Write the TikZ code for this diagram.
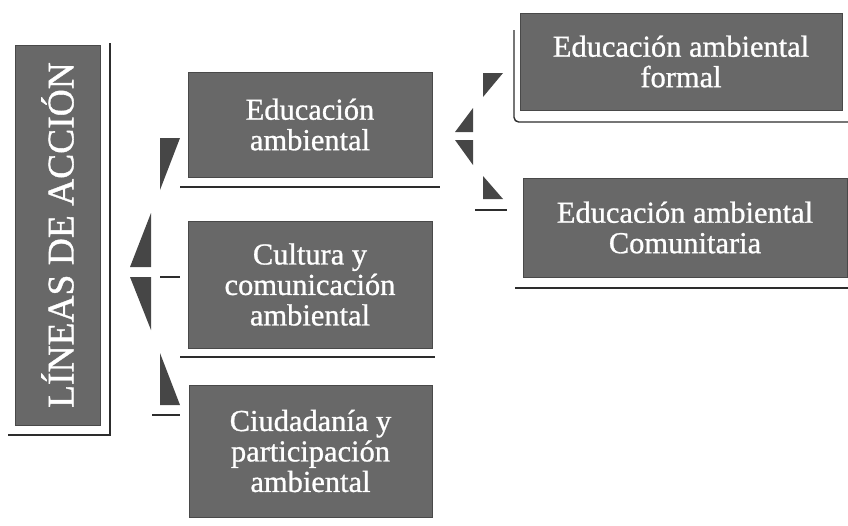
\documentclass[tikz,border=0pt]{standalone}
\usepackage{fontspec}
\setmainfont{Liberation Serif}
\newfontfamily\boxfont[FakeBold=0.9]{Liberation Serif}
\usetikzlibrary{positioning}
\definecolor{boxgray}{RGB}{104,104,104}
\definecolor{wedgegray}{RGB}{70,70,70}
\definecolor{rulegray}{RGB}{45,45,45}

\begin{document}
\begin{tikzpicture}[x=0.03cm,y=-0.03cm]
            \tikzstyle{every node}=[font=\boxfont\fontsize{26}{26}\selectfont]
            \tikzstyle{box}=[rectangle, draw=boxgray!70!black, fill=boxgray, text=white, align=center, inner sep=0pt]
            \tikzstyle{wedge}=[fill=wedgegray]
            \tikzstyle{shadowline}=[rulegray, line width=1.2pt]
            \tikzstyle{stub}=[rulegray, line width=1pt]

            \useasboundingbox (0,0) rectangle (848,525);

            \node[box, rotate=90, minimum width=11.4cm, minimum height=2.55cm, font=\boxfont\fontsize{32}{32}\selectfont] (lineas) at (57.5,235) {LÍNEAS DE ACCIÓN};

            \node[box, minimum width=7.32cm, minimum height=3.15cm] (edu) at (310,124.5) {Educación\\ambiental};
            \node[box, minimum width=7.32cm, minimum height=3.81cm] (cult) at (310,284.5) {Cultura y\\comunicación\\ambiental};
            \node[box, minimum width=7.29cm, minimum height=3.96cm] (ciud) at (310.5,451) {Ciudadanía y\\participación\\ambiental};

            \node[box, minimum width=9.66cm, minimum height=2.91cm] (formal) at (681,61.5) {Educación ambiental\\formal};
            \node[box, minimum width=9.72cm, minimum height=2.97cm] (comun) at (685,227.5) {Educación ambiental\\Comunitaria};

            % shadow rules
            \draw[shadowline] (110,43) -- (110,435) -- (8,435);
            \draw[shadowline] (180,187) -- (440,187);
            \draw[shadowline] (180,357) -- (435,357);
            \draw[shadowline, rounded corners=4pt] (514,30) -- (514,122) -- (848,122);
            \draw[shadowline] (515,288) -- (848,288);

            % bracket from lineas to the middle boxes
            \fill[wedge] (160,138) -- (180,138) -- (160,190) -- cycle;
            \fill[wedge] (151,213) -- (151,267) -- (130,267) -- cycle;
            \fill[wedge] (130,277) -- (151,277) -- (151,330) -- cycle;
            \fill[wedge] (160,353) -- (160,405) -- (180,405) -- cycle;
            \draw[stub] (160,277) -- (180,277);
            \draw[stub] (152,415) -- (180,415);

            % bracket from edu to the right boxes
            \fill[wedge] (483,73) -- (503,73) -- (483,97) -- cycle;
            \fill[wedge] (473,108) -- (473,132) -- (455,132) -- cycle;
            \fill[wedge] (455,140) -- (473,140) -- (473,165) -- cycle;
            \fill[wedge] (483,176) -- (483,199) -- (503,199) -- cycle;
            \draw[stub] (475,210) -- (507,210);

        \end{tikzpicture}
\end{document}
